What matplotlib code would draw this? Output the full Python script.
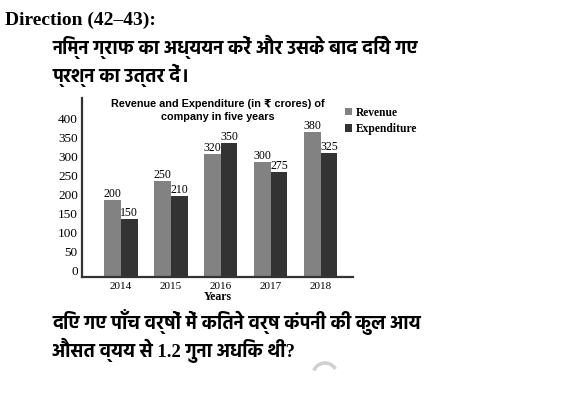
import matplotlib
matplotlib.use("Agg")
import matplotlib.pyplot as plt
from matplotlib.patches import Arc
import matplotlib.transforms as mtransforms
import numpy as np

# data
years = ["2014", "2015", "2016", "2017", "2018"]
revenue = [200, 250, 320, 300, 380]
expenditure = [150, 210, 350, 275, 325]
yticks = [0, 50, 100, 150, 200, 250, 300, 350, 400]

heading = "Direction (42\u201343):"
intro_lines = ["निम्न ग्राफ का अध्ययन करें और उसके बाद दिये गए", "प्रश्न का उत्तर दें।"]
question_lines = ["दिए गए पाँच वर्षों में कितने वर्ष कंपनी की कुल आय", "औसत व्यय से 1.2 गुना अधिक थी?"]
title_lines = ["Revenue and Expenditure (in \u20b9 crores) of", "company in five years"]

rev_color = "#828282"
exp_color = "#333333"
serif = "Liberation Serif"
hindi = ["Liberation Serif", "Hind", "Noto Sans Devanagari", "DejaVu Sans"]

fig = plt.figure(figsize=(5.78, 3.97), dpi=100)
ax = fig.add_axes([0.1419, 0.3035, 0.4683, 0.4496])

x = np.arange(len(years))
w = 0.333
ax.bar(x - w / 2, revenue, w, color=rev_color, label="Revenue")
ax.bar(x + w / 2, expenditure, w, color=exp_color, label="Expenditure")

# value labels on top of the bars
for xi, v in zip(x - w / 2, revenue):
    ax.text(xi, v, str(v), ha="center", va="bottom", fontsize=8.5, family=serif)
for xi, v in zip(x + w / 2, expenditure):
    ax.text(xi, v, str(v), ha="center", va="bottom", fontsize=8.5, family=serif)

ax.set_xlim(-0.78, 4.64)
ax.set_ylim(0, 468)
ax.set_yticks(yticks)
ax.set_xticks(x)
ax.set_xticklabels(years, family=serif, fontsize=8)
ax.set_yticklabels([str(t) for t in yticks], family=serif, fontsize=9.5)
ax.tick_params(length=0, pad=3)
ax.tick_params(axis="x", pad=4)
# y labels sit a little above their gridline in the original
shift = mtransforms.ScaledTranslation(0, 4 / 72, fig.dpi_scale_trans)
for lab in ax.get_yticklabels():
    lab.set_transform(lab.get_transform() + shift)

for s in ["top", "right"]:
    ax.spines[s].set_visible(False)
for s in ["left", "bottom"]:
    ax.spines[s].set_color("#333333")
    ax.spines[s].set_linewidth(1.6)

ax.set_xlabel("Years", family=serif, fontsize=8.5, fontweight="bold", labelpad=0)

# chart title, two separate lines
for i, line in enumerate(title_lines):
    fig.text(218 / 578, 1 - (104 + 13 * i) / 397, line, ha="center", va="center", fontsize=7.8,
             fontweight="bold", family=["Liberation Sans", "DejaVu Sans"])

ax.legend(loc="upper left", bbox_to_anchor=(340 / 578, 1 - 102 / 397), bbox_transform=fig.transFigure,
          frameon=False, prop={"family": serif, "weight": "bold", "size": 8.3},
          handlelength=0.6, handleheight=0.6, handletextpad=0.35, labelspacing=0.4, borderaxespad=0)

fig.text(5 / 578, 1 - 20 / 397, heading, ha="left", va="center", fontsize=14,
         fontweight="bold", family=serif)
for i, line in enumerate(intro_lines):
    fig.text(52 / 578, 1 - (47 + 28 * i) / 397, line, ha="left", va="center", fontsize=13.5,
             fontweight="bold", family=hindi)
for i, line in enumerate(question_lines):
    fig.text(52 / 578, 1 - (322 + 28 * i) / 397, line, ha="left", va="center", fontsize=13.5,
             fontweight="bold", family=hindi)

# faint loading spinner below the question
fig.patches.append(Arc((325 / 578, 1 - 375 / 397), 24 / 578, 24 / 397, theta1=40, theta2=150,
                       transform=fig.transFigure, color="#d0d0d0", lw=2.5))

fig.savefig("out.png", dpi=100)
